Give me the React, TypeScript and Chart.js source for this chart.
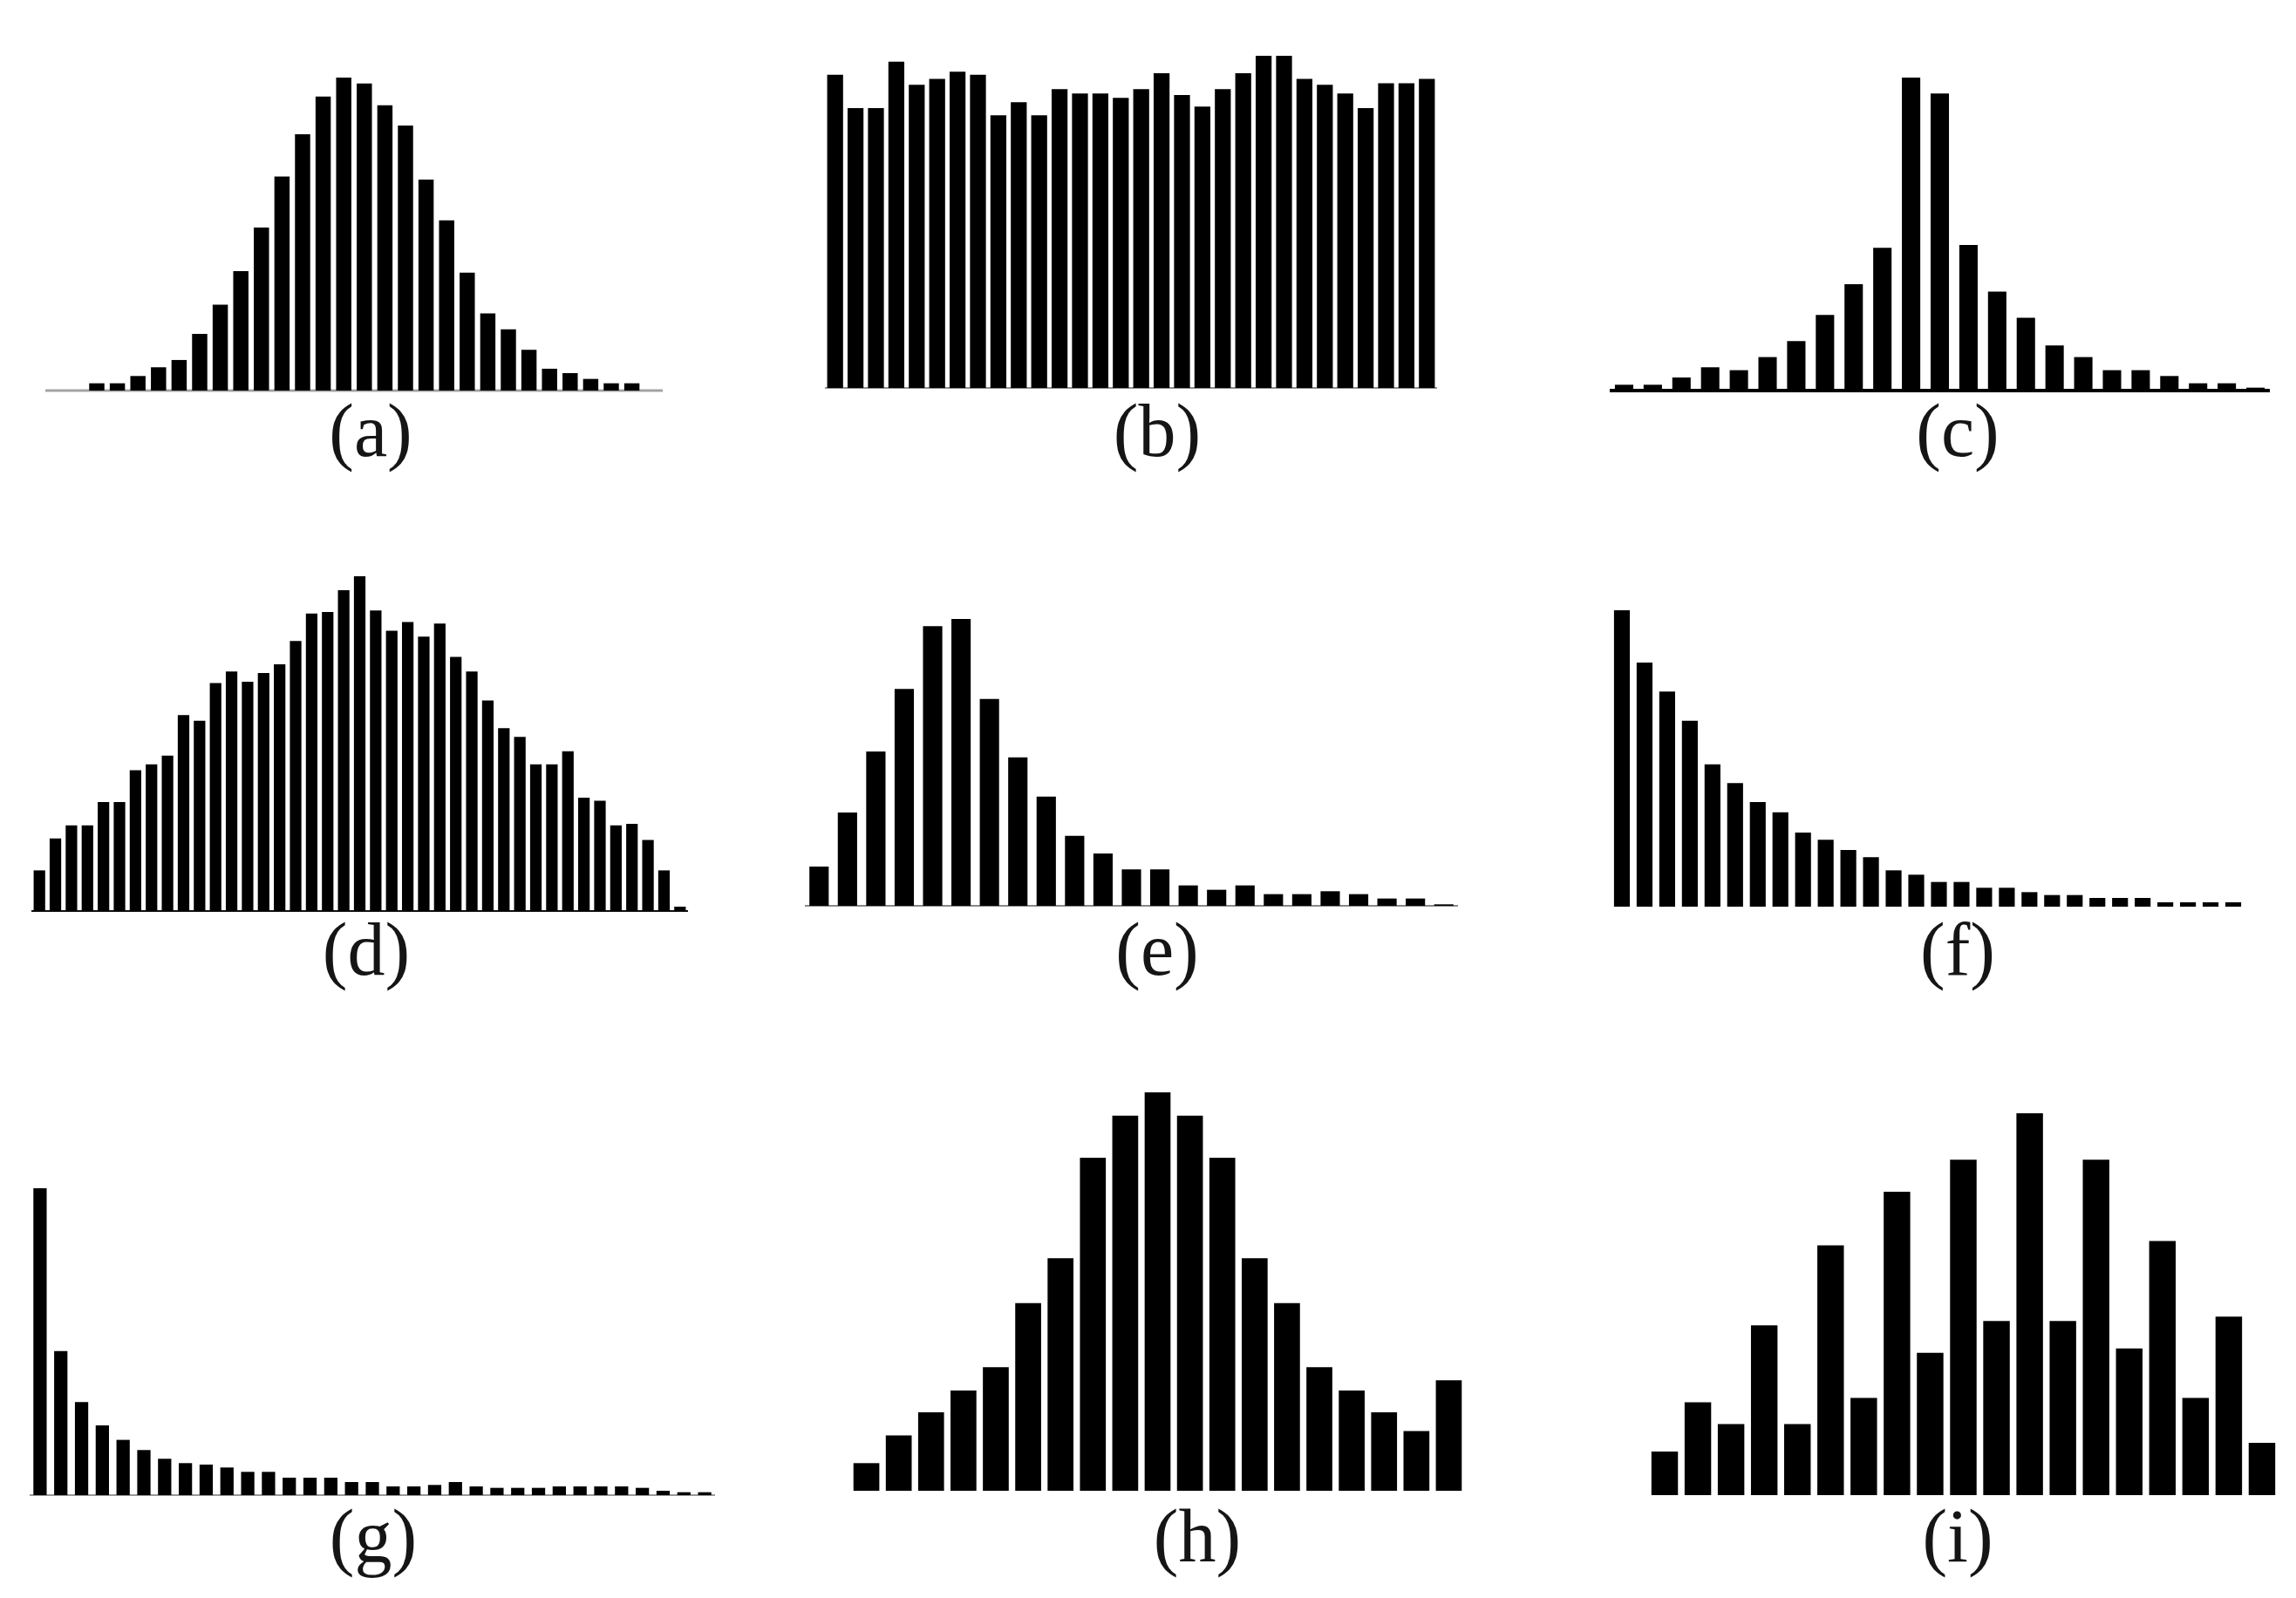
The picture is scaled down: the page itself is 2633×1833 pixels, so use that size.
import React, { useEffect, useRef } from "react";
import { Chart, registerables } from "chart.js";

Chart.register(...registerables);

// ---- data (relative bin counts) ----
const histA = [0, 0, 25, 25, 50, 80, 105, 195, 295, 410, 560, 735, 880, 1010, 1075, 1055, 980, 910, 725, 585, 405, 265, 210, 140, 75, 60, 40, 25, 25, 0];
const histB = [1080, 965, 965, 1125, 1045, 1065, 1090, 1080, 940, 985, 940, 1030, 1015, 1015, 1000, 1030, 1085, 1010, 970, 1030, 1085, 1145, 1145, 1065, 1045, 1015, 965, 1050, 1050, 1065];
const histC = [20, 20, 45, 80, 70, 115, 170, 260, 365, 490, 1075, 1020, 500, 340, 250, 155, 115, 70, 70, 50, 25, 25, 10];
const histD = [140, 250, 295, 295, 375, 375, 485, 505, 535, 675, 655, 785, 825, 790, 820, 850, 930, 1025, 1030, 1105, 1153, 1035, 965, 995, 945, 990, 875, 825, 725, 630, 600, 505, 505, 550, 390, 380, 295, 300, 245, 140, 15];
const histE = [135, 320, 530, 745, 960, 985, 710, 510, 375, 240, 180, 125, 125, 70, 55, 70, 40, 40, 50, 40, 25, 25, 5];
const histF = [1020, 840, 740, 640, 490, 425, 360, 325, 255, 230, 195, 170, 125, 110, 85, 85, 65, 65, 50, 40, 40, 30, 30, 30, 15, 15, 15, 15];
const histG = [1055, 495, 320, 240, 190, 155, 125, 110, 105, 95, 80, 80, 60, 60, 60, 45, 45, 30, 30, 35, 45, 30, 25, 25, 25, 30, 30, 30, 30, 25, 15, 10, 10];
const histH = [95, 190, 270, 345, 425, 645, 800, 1145, 1290, 1370, 1290, 1145, 800, 645, 425, 345, 270, 205, 380];
const histI = [150, 320, 245, 585, 245, 860, 335, 1045, 490, 1155, 600, 1315, 600, 1155, 505, 875, 335, 615, 180];

const captions = ["(a)", "(b)", "(c)", "(d)", "(e)", "(f)", "(g)", "(h)", "(i)"];

// ---- layout / style (separate from data) ----
type Line = { color: string; width: number } | null;
type Panel = {
  values: number[];
  caption: string;
  left: number;
  right: number;
  top: number;
  base: number;
  bar: number;
  line: Line;
  capX: number;
  capTop: number;
};

const PANELS: Panel[] = [
  { values: histA, caption: captions[0], left: 52, right: 760, top: 89, base: 448, bar: 0.74, line: { color: "#a4a4a4", width: 3 }, capX: 425, capTop: 450 },
  { values: histB, caption: captions[1], left: 946, right: 1648, top: 64, base: 445, bar: 0.78, line: { color: "#222", width: 1 }, capX: 1327, capTop: 450 },
  { values: histC, caption: captions[2], left: 1846, right: 2603, top: 89, base: 448, bar: 0.64, line: { color: "#000", width: 4 }, capX: 2245, capTop: 450 },
  { values: histD, caption: captions[3], left: 36, right: 789, top: 661, base: 1045, bar: 0.72, line: { color: "#111", width: 2 }, capX: 420, capTop: 1045 },
  { values: histE, caption: captions[4], left: 923, right: 1672, top: 710, base: 1039, bar: 0.68, line: { color: "#888", width: 2 }, capX: 1327, capTop: 1045 },
  { values: histF, caption: captions[5], left: 1847, right: 2574, top: 700, base: 1040, bar: 0.7, line: null, capX: 2245, capTop: 1045 },
  { values: histG, caption: captions[6], left: 34, right: 820, top: 1363, base: 1715, bar: 0.64, line: { color: "#999", width: 2 }, capX: 428, capTop: 1718 },
  { values: histH, caption: captions[7], left: 975, right: 1680, top: 1253, base: 1710, bar: 0.8, line: null, capX: 1373, capTop: 1718 },
  { values: histI, caption: captions[8], left: 1890, right: 2613, top: 1277, base: 1715, bar: 0.8, line: null, capX: 2245, capTop: 1718 },
];

const PAD_BOTTOM = 4;

function baselinePlugin(line: Line) {
  return {
    id: "baseline",
    beforeDatasetsDraw(chart: any) {
      if (!line) return;
      const { ctx, chartArea, scales } = chart;
      const y = scales.y.getPixelForValue(0);
      ctx.save();
      ctx.strokeStyle = line.color;
      ctx.lineWidth = line.width;
      ctx.beginPath();
      ctx.moveTo(chartArea.left, y);
      ctx.lineTo(chartArea.right, y);
      ctx.stroke();
      ctx.restore();
    },
  };
}

function Histogram({ p }: { p: Panel }) {
  const ref = useRef<HTMLCanvasElement | null>(null);
  useEffect(() => {
    if (!ref.current) return;
    const chart = new Chart(ref.current, {
      type: "bar",
      data: {
        labels: p.values.map((_, i) => String(i + 1)),
        datasets: [
          {
            data: p.values,
            backgroundColor: "#000",
            borderWidth: 0,
            barPercentage: p.bar,
            categoryPercentage: 1,
          },
        ],
      },
      options: {
        animation: false,
        responsive: false,
        maintainAspectRatio: false,
        layout: { padding: { top: 0, left: 0, right: 0, bottom: PAD_BOTTOM } },
        plugins: {
          legend: { display: false },
          tooltip: { enabled: false },
          title: { display: false },
        },
        scales: {
          x: { display: false, offset: true },
          y: { display: false, min: 0, max: Math.max(...p.values) },
        },
      },
      plugins: [baselinePlugin(p.line)],
    });
    return () => chart.destroy();
  }, [p]);
  return (
    <canvas
      ref={ref}
      width={p.right - p.left}
      height={p.base - p.top + PAD_BOTTOM}
      style={{ position: "absolute", left: p.left, top: p.top, display: "block" }}
    />
  );
}

export default function App() {
  return (
    <div
      style={{
        position: "absolute",
        left: 0,
        top: 0,
        width: 2633,
        height: 1833,
        background: "#fff",
        overflow: "hidden",
      }}
    >
      {PANELS.map((p, i) => (
        <React.Fragment key={i}>
          <Histogram p={p} />
          <div
            style={{
              position: "absolute",
              left: p.capX,
              top: p.capTop,
              transform: "translateX(-50%)",
              fontFamily: '"Liberation Serif", "Times New Roman", Times, serif',
              fontSize: 86,
              lineHeight: "88px",
              color: "#151515",
              whiteSpace: "nowrap",
            }}
          >
            {p.caption}
          </div>
        </React.Fragment>
      ))}
    </div>
  );
}
